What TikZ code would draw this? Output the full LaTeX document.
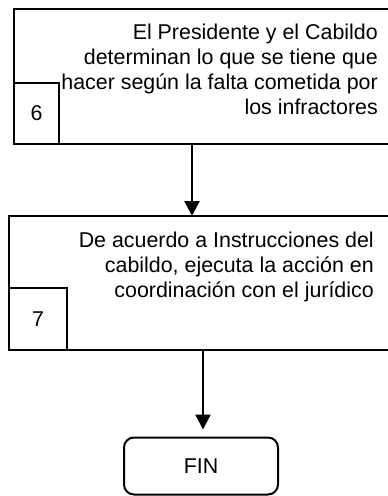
\documentclass[tikz,border=0pt]{standalone}
\usepackage{fontspec}
\setmainfont{Liberation Sans}
\usetikzlibrary{arrows.meta,calc}
\begin{document}
\begin{tikzpicture}[x=1pt,y=-1pt,
  box/.style={draw=black, line width=2pt, anchor=north west, inner sep=0pt, outer sep=0pt},
  txt/.style={align=right, inner sep=0pt, anchor=north east, font=\fontsize{21.4}{25}\selectfont},
  num/.style={inner sep=0pt, font=\fontsize{21.4}{25}\selectfont},
  arr/.style={line width=2.4pt, -{Triangle[width=15pt,length=15pt]}},
  endbox/.style={draw=black, line width=2pt, rounded corners=10pt, minimum width=154pt, minimum height=57pt, inner sep=0pt, font=\fontsize{21.4}{25}\selectfont}]
\useasboundingbox (0,0) rectangle (388,496);
\clip (0,0) rectangle (388,496);
% box 6
\node[box, minimum width=400pt, minimum height=135pt] (b1) at (14,9) {};
\node[box, minimum width=45pt, minimum height=61pt] (n6) at (14,83) {};
\node[num] (l6) at (n6.center) {6};
\node[txt] (t1) at (378,23.5) {El Presidente y el Cabildo\\determinan lo que se tiene que\\hacer según la falta cometida por\\los infractores};
% box 7
\node[box, minimum width=400pt, minimum height=134pt] (b2) at (9,216) {};
\node[box, minimum width=58pt, minimum height=62pt] (n7) at (9,288) {};
\node[num] (l7) at (n7.center) {7};
\node[txt] (t2) at (374,231.5) {De acuerdo a Instrucciones del\\cabildo, ejecuta la acción en\\coordinación con el jurídico};
% end
\node[endbox] (fin) at (201,466) {FIN};
% connectors
\coordinate (a1) at ($(b1.south west)+(178,0)$);
\draw[arr] (a1) -- (a1 |- b2.north);
\coordinate (a2) at ($(b2.south west)+(194,0)$);
\draw[arr, shorten >=7pt] (a2) -- (a2 |- fin.north);
\end{tikzpicture}
\end{document}
